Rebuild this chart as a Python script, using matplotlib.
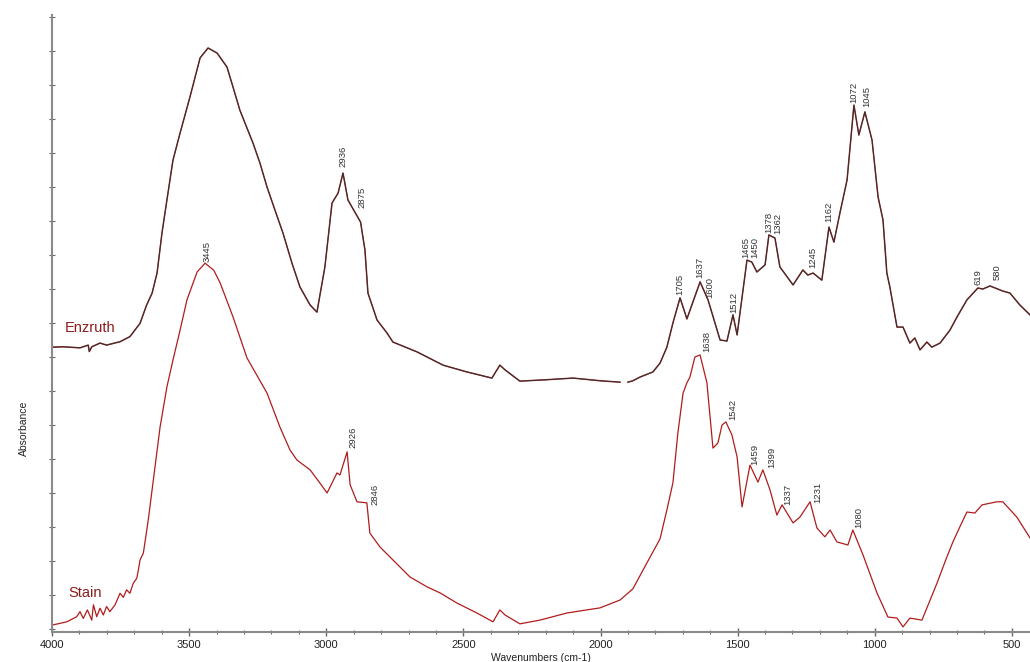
import numpy as np
import matplotlib
matplotlib.use("Agg")
import matplotlib.pyplot as plt

# top spectrum (Enzruth)
enz_wn = [4000, 3959, 3898, 3868, 3864, 3855, 3825, 3801, 3752, 3716, 3679, 3655,
          3635, 3617, 3599, 3581, 3559, 3533, 3497, 3460, 3431, 3398, 3362, 3340,
          3315, 3267, 3242, 3216, 3187, 3158, 3125, 3096, 3059, 3034, 3005, 2979,
          2957, 2939, 2921, 2875, 2859, 2848, 2815, 2779, 2757, 2669, 2574, 2487,
          2396, 2367, 2348, 2294, 2200, 2100, 2000, 1929, 1915, 1900, 1882, 1856,
          1809, 1783, 1758, 1736, 1710, 1685, 1637, 1608, 1564, 1539, 1517, 1502,
          1466, 1448, 1430, 1400, 1386, 1364, 1346, 1298, 1262, 1244, 1225, 1193,
          1167, 1149, 1127, 1101, 1076, 1058, 1036, 1010, 988, 970, 956, 945, 919,
          897, 872, 854, 835, 810, 792, 762, 726, 700, 664, 624, 606, 580, 533,
          507, 471, 434]
enz_abs = [0.829, 0.830, 0.827, 0.835, 0.816, 0.830, 0.841, 0.835, 0.845, 0.860, 0.899, 0.953,
           0.988, 1.047, 1.165, 1.262, 1.379, 1.459, 1.565, 1.680, 1.709, 1.694, 1.653, 1.594,
           1.526, 1.429, 1.371, 1.300, 1.232, 1.165, 1.076, 1.006, 0.953, 0.932, 1.065, 1.253,
           1.282, 1.341, 1.262, 1.197, 1.115, 0.988, 0.909, 0.871, 0.844, 0.815, 0.776, 0.756,
           0.738, 0.776, 0.762, 0.729, 0.733, 0.738, 0.730, 0.726, np.nan, 0.726, 0.730, 0.741,
           0.756, 0.782, 0.829, 0.900, 0.974, 0.912, 1.021, 0.968, 0.850, 0.847, 0.924, 0.865,
           1.085, 1.079, 1.050, 1.071, 1.159, 1.150, 1.065, 1.012, 1.056, 1.041, 1.047, 1.026,
           1.182, 1.138, 1.224, 1.321, 1.541, 1.453, 1.521, 1.438, 1.271, 1.203, 1.047, 1.006, 0.888,
           0.888, 0.841, 0.856, 0.821, 0.844, 0.829, 0.841, 0.879, 0.918, 0.968, 1.003, 1.000, 1.009, 0.994,
           0.988, 0.953, 0.924]

# bottom spectrum (Stain)
stain_wn = [3996, 3946, 3910, 3898, 3886, 3871, 3855, 3849, 3837, 3825, 3813, 3801,
            3789, 3770, 3752, 3740, 3728, 3716, 3704, 3691, 3685, 3679, 3667, 3649,
            3632, 3606, 3581, 3559, 3533, 3508, 3471, 3442, 3410, 3387, 3340, 3289,
            3216, 3169, 3132, 3107, 3059, 3023, 2997, 2961, 2950, 2924, 2913, 2888,
            2852, 2841, 2804, 2757, 2695, 2633, 2585, 2523, 2451, 2392, 2367, 2348,
            2294, 2221, 2122, 2002, 1929, 1882, 1831, 1783, 1758, 1736, 1718, 1699,
            1685, 1674, 1656, 1637, 1612, 1590, 1572, 1557, 1543, 1521, 1502, 1484,
            1455, 1426, 1408, 1382, 1357, 1338, 1298, 1273, 1236, 1211, 1182, 1163,
            1138, 1098, 1080, 1043, 992, 952, 919, 897, 872, 828, 773, 737, 715, 690,
            664, 635, 609, 555, 533, 482, 434]
stain_abs = [0.012, 0.021, 0.036, 0.051, 0.031, 0.056, 0.026, 0.071, 0.036, 0.061, 0.041, 0.066,
             0.051, 0.071, 0.105, 0.093, 0.115, 0.105, 0.134, 0.149, 0.174, 0.203, 0.223, 0.321,
             0.429, 0.594, 0.712, 0.791, 0.879, 0.968, 1.050, 1.076, 1.055, 1.018, 0.918, 0.797,
             0.694, 0.594, 0.526, 0.497, 0.468, 0.429, 0.400, 0.459, 0.453, 0.521, 0.424, 0.374,
             0.371, 0.282, 0.241, 0.203, 0.153, 0.124, 0.106, 0.076, 0.047, 0.021, 0.056, 0.041,
             0.015, 0.026, 0.047, 0.062, 0.085, 0.118, 0.194, 0.265, 0.350, 0.430, 0.576, 0.694,
             0.724, 0.741, 0.800, 0.806, 0.724, 0.532, 0.547, 0.600, 0.609, 0.571, 0.506, 0.359,
             0.482, 0.432, 0.468, 0.409, 0.335, 0.365, 0.312, 0.329, 0.374, 0.297, 0.271, 0.291,
             0.256, 0.247, 0.291, 0.218, 0.106, 0.035, 0.032, 0.006, 0.032, 0.026, 0.135, 0.212, 0.256, 0.300,
             0.344, 0.341, 0.365, 0.374, 0.374, 0.329, 0.268]

# peak labels: text, wavenumber, height of label base
enz_peaks = [("2936", 2939, 1.359), ("2875", 2870, 1.238), ("1705", 1710, 0.982),
             ("1637", 1637, 1.032), ("1600", 1601, 0.974), ("1512", 1513, 0.929),
             ("1465", 1471, 1.091), ("1450", 1438, 1.091), ("1378", 1388, 1.165),
             ("1362", 1352, 1.162), ("1245", 1225, 1.062), ("1162", 1167, 1.198),
             ("1072", 1076, 1.547), ("1045", 1029, 1.535), ("619", 624, 1.012),
             ("580", 555, 1.026)]
stain_peaks = [("3445", 3434, 1.079), ("2926", 2903, 0.532), ("2846", 2822, 0.365),
               ("1638", 1612, 0.815), ("1542", 1517, 0.615), ("1459", 1437, 0.482),
               ("1399", 1375, 0.474), ("1337", 1317, 0.365), ("1231", 1207, 0.371),
               ("1080", 1058, 0.297)]

plt.rcParams['font.family'] = ['Liberation Sans', 'DejaVu Sans']

fig = plt.figure(figsize=(10.3, 6.62), dpi=100)
ax = fig.add_axes([0.0505, 0.0453, 0.9495, 0.932])

# top trace looks like a dark line laid over a red one
ax.plot(enz_wn, enz_abs, color='#b03030', lw=1.1, solid_joinstyle='round')
ax.plot(enz_wn, enz_abs, color='#2e2e2e', lw=0.7, solid_joinstyle='round')
ax.plot(stain_wn, stain_abs, color='#b01c1c', lw=0.9, solid_joinstyle='round')

for txt, wn, v in enz_peaks + stain_peaks:
    ax.text(wn, v, txt, rotation=90, ha='center', va='bottom', fontsize=6.8,
            color='#333333', family=['Liberation Sans Narrow', 'Liberation Sans'])

ax.text(3953, 0.885, "Enzruth", fontsize=10.5, color='#8b1c1c', va='center')
ax.text(3942, 0.106, "Stain", fontsize=10.5, color='#8b1c1c', va='center')

ax.set_xlim(4000, 434)
ax.set_ylim(-0.009, 1.806)
ax.set_xticks([4000, 3500, 3000, 2500, 2000, 1500, 1000, 500])
ax.set_xticks(np.arange(500, 4000, 100), minor=True)
ax.set_yticks(np.arange(0, 1.81, 0.1))
ax.set_yticklabels([])

for s in ['top', 'right']:
    ax.spines[s].set_visible(False)
for s in ['left', 'bottom']:
    ax.spines[s].set_color('#8a8a8a')
    ax.spines[s].set_linewidth(1.5)

ax.tick_params(axis='x', which='major', direction='inout', length=6, width=1.0,
               color='#666666', labelsize=8, labelcolor='#222222', pad=3)
ax.tick_params(axis='x', which='minor', direction='inout', length=3, width=0.8,
               color='#666666')
ax.tick_params(axis='y', direction='inout', length=5, width=0.8, color='#666666')

ax.set_xlabel("Wavenumbers (cm-1)", fontsize=7.5, color='#222222', labelpad=2)
ax.set_ylabel("Absorbance", fontsize=7.5, color='#222222')
ax.yaxis.set_label_coords(-0.024, 0.33)

fig.savefig("out.png", dpi=100)
